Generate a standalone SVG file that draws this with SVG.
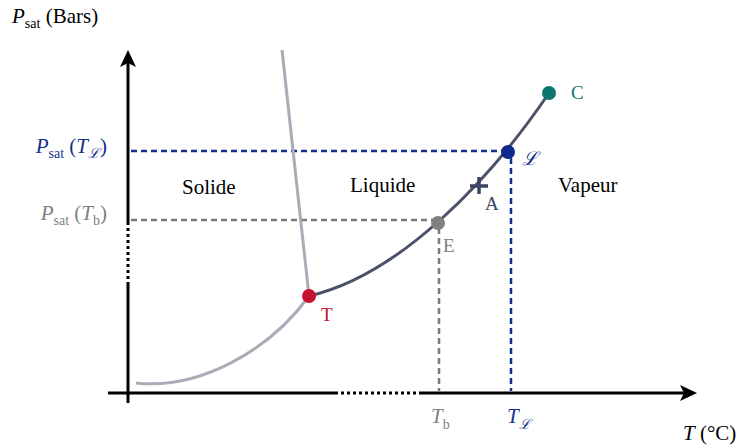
<svg xmlns="http://www.w3.org/2000/svg" width="737" height="448" viewBox="0 0 737 448">
<style>
  text { font-family: "Liberation Serif", "Times New Roman", serif; }
  .lbl { font-size: 21px; }
  .pt { font-size: 19px; }
  .it { font-style: italic; }
  .sub { font-size: 14px; }
  .axis { stroke: #000; stroke-width: 3; fill: none; }
  .dot { stroke: #000; stroke-width: 3; stroke-dasharray: 3 3; fill: none; }
  .gray { stroke: #a9adb8; stroke-width: 3; fill: none; }
  .dark { stroke: #4a5169; stroke-width: 3; fill: none; }
  .dblue { stroke: #13308f; stroke-width: 2.5; stroke-dasharray: 6 4; fill: none; }
  .dgray { stroke: #7a7a7a; stroke-width: 2.5; stroke-dasharray: 6 4; fill: none; }
</style>
<rect width="737" height="448" fill="#fff"/>

<g id="axes">
  <line class="axis" x1="128" y1="403" x2="128" y2="285"/>
  <line class="dot" x1="128" y1="285" x2="128" y2="224"/>
  <line class="axis" x1="128" y1="224" x2="128" y2="62"/>
  <path d="M128,50 L136,67 L128,63 L120,67 Z" fill="#000"/>
  <line class="axis" x1="108" y1="393" x2="335" y2="393"/>
  <line class="dot" x1="335" y1="393" x2="420" y2="393"/>
  <line class="axis" x1="420" y1="393" x2="686" y2="393"/>
  <path d="M697,393 L680,385 L684,393 L680,401 Z" fill="#000"/>
</g>

<g id="connectors">
  <line class="dblue" x1="131" y1="151" x2="505" y2="151"/>
  <line class="dblue" x1="511" y1="158" x2="511" y2="391"/>
  <line class="dgray" x1="131" y1="220" x2="435" y2="220"/>
  <line class="dgray" x1="439" y1="228" x2="439" y2="391"/>
  <line class="gray" x1="282" y1="50" x2="309" y2="296"/>
  <path class="gray" d="M136,383 C200,390 270,350 309,296"/>
  <path class="dark" d="M309,296 C400,275 490,180 549,93"/>
</g>

<g id="axis-labels">
  <text class="lbl" x="12" y="23" fill="#000"><tspan class="it">P</tspan><tspan class="sub" dy="5">sat</tspan><tspan dy="-5"> (Bars)</tspan></text>
  <text class="lbl" x="683" y="440" fill="#000"><tspan class="it">T</tspan> (°C)</text>
  <text class="lbl" x="107" y="153" text-anchor="end" fill="#13308f"><tspan class="it">P</tspan><tspan class="sub" dy="5">sat</tspan><tspan dy="-5"> (</tspan><tspan class="it">T</tspan><tspan class="it sub" dy="5">ℒ</tspan><tspan dy="-5">)</tspan></text>
  <text class="lbl" x="107" y="220" text-anchor="end" fill="#808080"><tspan class="it">P</tspan><tspan class="sub" dy="5">sat</tspan><tspan dy="-5"> (</tspan><tspan class="it">T</tspan><tspan class="sub" dy="5">b</tspan><tspan dy="-5">)</tspan></text>
  <text class="lbl" x="431" y="423" fill="#808080"><tspan class="it">T</tspan><tspan class="sub" dy="6">b</tspan></text>
  <text class="lbl" x="507" y="423" fill="#13308f"><tspan class="it">T</tspan><tspan class="it sub" dy="6">ℒ</tspan></text>
</g>

<g id="regions">
  <text class="lbl" x="182" y="194" fill="#000">Solide</text>
  <text class="lbl" x="350" y="192" fill="#000">Liquide</text>
  <text class="lbl" x="558" y="192" fill="#000">Vapeur</text>
</g>

<g id="point-T">
  <circle cx="309" cy="296" r="7" fill="#c4122f"/>
  <text class="pt" x="321" y="321" fill="#c4122f">T</text>
</g>
<g id="point-E">
  <circle cx="438" cy="223" r="7" fill="#808080"/>
  <text class="pt" x="443" y="252" fill="#808080">E</text>
</g>
<g id="point-A">
  <path d="M470,186 H488 M479,177 V194" stroke="#3c4662" stroke-width="3.5" fill="none"/>
  <text class="pt" x="485" y="210" fill="#3c4662">A</text>
</g>
<g id="point-L">
  <circle cx="508" cy="152" r="7" fill="#102a8c"/>
  <text class="pt it" x="522" y="165" font-size="17" fill="#102a8c">ℒ</text>
</g>
<g id="point-C">
  <circle cx="549" cy="93" r="7" fill="#0f766e"/>
  <text class="pt" x="571" y="99" fill="#0f766e">C</text>
</g>
</svg>
